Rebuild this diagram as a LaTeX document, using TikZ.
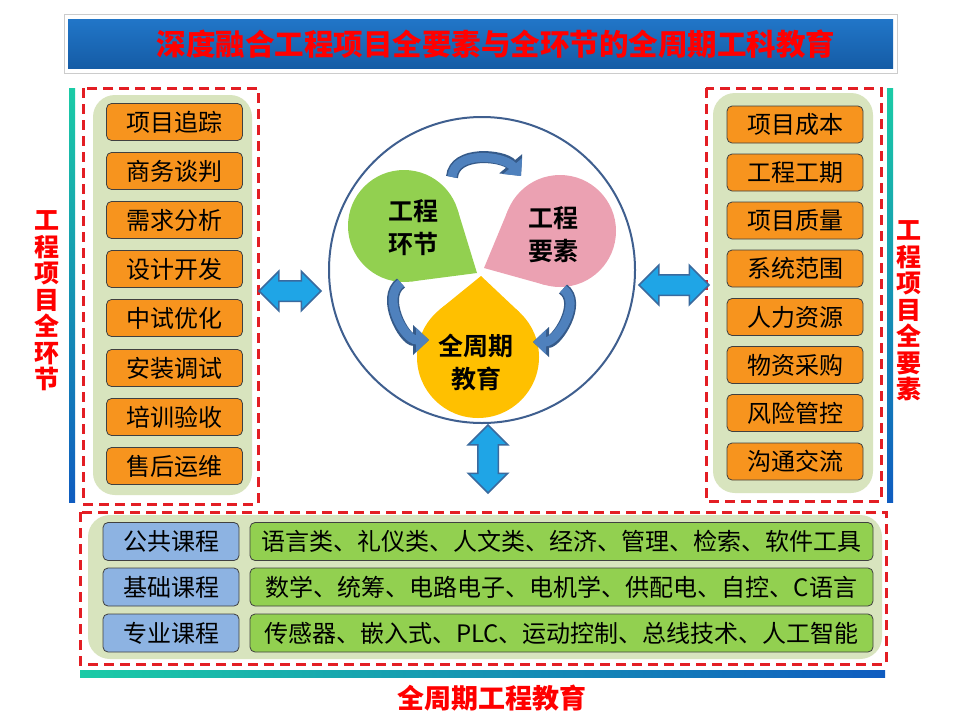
\documentclass[tikz,border=0pt]{standalone}
\usepackage{fontspec}
\setmainfont{Noto Sans CJK SC}[BoldFont={Noto Sans CJK SC Bold}]
\newfontfamily\heavyfont{Noto Sans CJK SC Black}
\usetikzlibrary{calc,arrows.meta,shapes.arrows}

\definecolor{titleblue}{HTML}{2176C8}
\definecolor{titledeep}{HTML}{155CA6}
\definecolor{panelgreen}{HTML}{D8E4BE}
\definecolor{stageorange}{HTML}{F7941E}
\definecolor{courseblue}{HTML}{8DB3E2}
\definecolor{topicgreen}{HTML}{92D050}
\definecolor{frame}{HTML}{E31E24}
\definecolor{barteal}{HTML}{1BCBA6}
\definecolor{barcyan}{HTML}{25BBE2}
\definecolor{barblue}{HTML}{0F5CC0}
\definecolor{ringblue}{HTML}{3F5F8F}
\definecolor{petalgreen}{HTML}{92D050}
\definecolor{petalpink}{HTML}{EBA1B2}
\definecolor{petalgold}{HTML}{FFC000}
\definecolor{bendblue}{HTML}{4F81BD}
\definecolor{bendedge}{HTML}{355A89}
\definecolor{wayblue}{HTML}{1FA5E6}
\definecolor{wayedge}{HTML}{3A6A9E}

\newcommand{\petal}[4]{%
  \fill[#1] (#2) circle[radius=#3pt];
  \fill[#1] let \p1=(#2), \p2=(#4), \n1={atan2(\y2-\y1,\x2-\x1)}, \n2={veclen(\x2-\x1,\y2-\y1)}, \n3={acos(#3/\n2)} in
    (#4) -- ($(#2)+(\n1+\n3:#3pt)$) -- ($(#2)+(\n1-\n3:#3pt)$) -- cycle;
}

\begin{document}
\begin{tikzpicture}[x=1pt,y=-1pt,
	stage/.style={ draw=black!75, fill=stageorange, rounded corners=5pt, line width=0.8pt, inner sep=0pt, minimum width=136pt, minimum height=37pt, font=\fontsize{24}{24}\selectfont },
	course/.style={ draw=black!75, fill=courseblue, rounded corners=5pt, line width=0.8pt, inner sep=0pt, minimum width=136pt, minimum height=38pt, font=\fontsize{24}{24}\selectfont },
	topic/.style={ draw=black!75, fill=topicgreen, rounded corners=5pt, line width=0.8pt, inner sep=0pt, minimum width=623pt, minimum height=38pt, font=\fontsize{24}{24}\selectfont },
	redframe/.style={ draw=frame, line width=3pt, dash pattern=on 10pt off 6pt },
	panel/.style={ fill=panelgreen, rounded corners=22pt },
	sidelabel/.style={ text=red, align=center, font=\heavyfont\fontsize{25}{26.5}\selectfont },
	petaltext/.style={ align=center, font=\bfseries\fontsize{25}{33}\selectfont },
	bendarrow/.style={ draw=bendblue, line width=9pt, -{Triangle[width=24pt,length=13pt]},
		preaction={ draw=bendedge, line width=12pt, -{Triangle[width=29pt,length=16pt]} } },
	twoway/.style={ double arrow, draw=wayedge, fill=wayblue, line width=1.5pt, inner xsep=0pt, inner ysep=9.5pt, double arrow head extend=9.5pt, double arrow head indent=0pt }
]
\useasboundingbox (0,0) rectangle (960,720);
\fill[white] (0,0) rectangle (960,720);

\draw[draw=black!20, fill=white, line width=1pt] (64,14) rectangle (897,73);
\shade[top color=titleblue, bottom color=titledeep] (68,19) rectangle (893,68);
\node[text=red, font=\heavyfont\fontsize{29.5}{30}\selectfont] (title) at (496,44) {深度融合工程项目全要素与全环节的全周期工科教育};

\shade[top color=barteal, middle color=barcyan, bottom color=barblue] (69,88) rectangle (75,502);
\shade[top color=barteal, middle color=barcyan, bottom color=barblue] (887,88) rectangle (893,502);
\shade[left color=barteal, middle color=barcyan, right color=barblue] (80,670) rectangle (885,677);

\node[sidelabel] (lleft) at (47,301) {工\\程\\项\\目\\全\\环\\节};
\node[sidelabel] (lright) at (909,311) {工\\程\\项\\目\\全\\要\\素};
\node[text=red, font=\heavyfont\fontsize{27}{28}\selectfont] (lbottom) at (492,698) {全周期工程教育};

\draw[redframe] (83,88) rectangle (258,504);
\fill[panel] (93,95) rectangle (252,495);
\node[stage] at (174.5,122) (s1) {项目追踪};
\node[stage] at (174.5,171) (s2) {商务谈判};
\node[stage] at (174.5,220) (s3) {需求分析};
\node[stage] at (174.5,269) (s4) {设计开发};
\node[stage] at (174.5,318) (s5) {中试优化};
\node[stage] at (174.5,368) (s6) {安装调试};
\node[stage] at (174.5,417) (s7) {培训验收};
\node[stage] at (174.5,466) (s8) {售后运维};

\draw[redframe] (706,88) rectangle (881,501);
\fill[panel] (713,93) rectangle (873,493);
\node[stage] at (795,124.5) (e1) {项目成本};
\node[stage] at (795,172.5) (e2) {工程工期};
\node[stage] at (795,220.5) (e3) {项目质量};
\node[stage] at (795,268.5) (e4) {系统范围};
\node[stage] at (795,317) (e5) {人力资源};
\node[stage] at (795,365) (e6) {物资采购};
\node[stage] at (795,413) (e7) {风险管控};
\node[stage] at (795,461.5) (e8) {沟通交流};

\draw[redframe] (80,512) rectangle (886,664);
\fill[panel] (88,515) rectangle (882,659);
\node[course] at (171,541.5) (c1) {公共课程};
\node[course] at (171,587) (c2) {基础课程};
\node[course] at (171,633) (c3) {专业课程};
\node[topic] at (561.5,541.5) (t1) {语言类、礼仪类、人文类、经济、管理、检索、软件工具};
\node[topic] at (561.5,587) (t2) {数学、统筹、电路电子、电机学、供配电、自控、C语言};
\node[topic] at (561.5,633) (t3) {传感器、嵌入式、PLC、运动控制、总线技术、人工智能};

\draw[ringblue, line width=2pt] (482,270) circle[radius=153pt];

\coordinate (gc) at (404,226);
\coordinate (gt) at (477,273);
\coordinate (pc) at (560,231);
\coordinate (pt) at (484,268);
\coordinate (yc) at (478,357);
\coordinate (yt) at (481,276);
\petal{petalgreen}{gc}{56}{gt}
\petal{petalpink}{pc}{56}{pt}
\petal{petalgold}{yc}{61}{yt}

\node[petaltext] (d1) at (413,228) {工程\\环节};
\node[petaltext] (d2) at (553,235) {工程\\要素};
\node[petaltext] (d3) at (476,362) {全周期\\教育};

\coordinate (b1) at (452,177);
\coordinate (b2) at (521,176);
\coordinate (b3) at (401,283);
\coordinate (b4) at (429,340);
\coordinate (b5) at (563,289);
\coordinate (b6) at (533,342);
\draw[bendarrow] (b1) to[out=85,in=130] (b2);
\draw[bendarrow] (b3) to[out=215,in=180] (b4);
\draw[bendarrow] (b5) to[out=-35,in=0] (b6);

\node[twoway, minimum height=62pt] (hl) at (290,291) {};
\node[twoway, minimum height=70pt] (hr) at (674,285) {};
\node[twoway, rotate=90, minimum height=68pt] (vb) at (488,459) {};

\end{tikzpicture}
\end{document}
